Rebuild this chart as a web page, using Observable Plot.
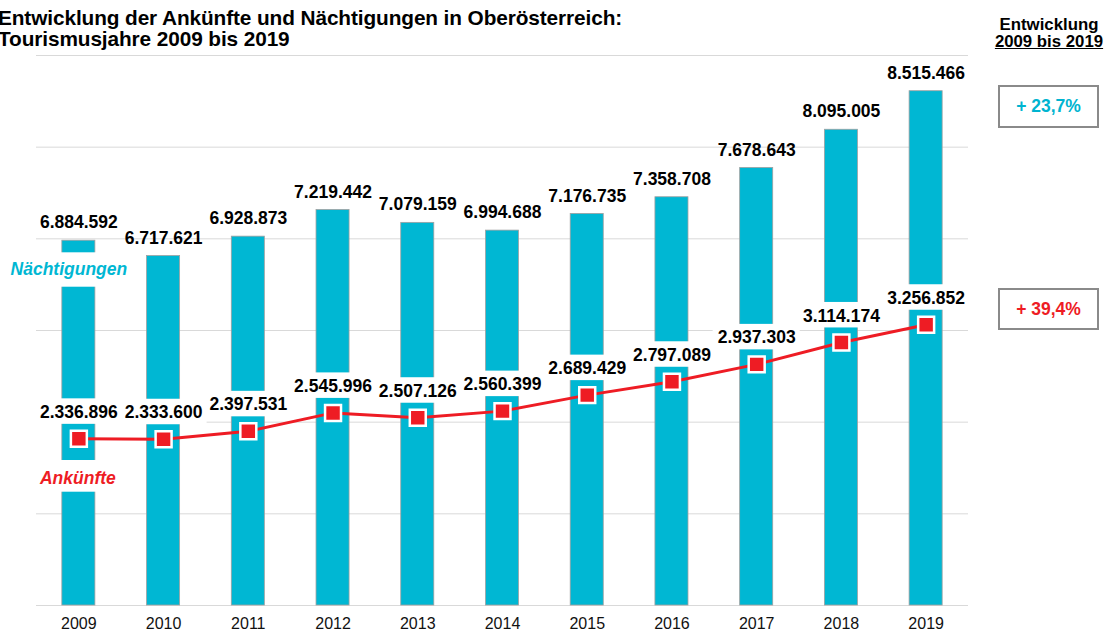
<!DOCTYPE html>
<html>
<head>
<meta charset="utf-8">
<script src="https://cdn.jsdelivr.net/npm/d3@7"></script>
<script src="https://cdn.jsdelivr.net/npm/@observablehq/plot@0.6"></script>
<style>
  html, body { margin: 0; padding: 0; background: #fff; }
  body { font-family: "Liberation Sans", Arial, sans-serif; }
  #wrap { position: relative; width: 1105px; height: 631px; overflow: hidden; }
  #chart { position: absolute; left: 0; top: 0; }
  #title { position: absolute; left: -2px; top: 6.5px; font-size: 20.8px; line-height: 21.5px; font-weight: bold; color: #000; white-space: nowrap; letter-spacing: -0.1px; }
  #rhead { position: absolute; left: 993px; top: 17px; width: 112px; text-align: center; font-size: 16.8px; line-height: 16.8px; font-weight: bold; color: #000; }
  #rhead u { text-decoration: underline; }
  .box { position: absolute; left: 998px; width: 101px; box-sizing: border-box; border: 2px solid #8a8a8a; display: flex; align-items: center; justify-content: center; font-size: 17.5px; font-weight: bold; white-space: pre; }
</style>
</head>
<body>
<div id="wrap">
  <div id="chart"></div>
  <div id="title">Entwicklung der Ankünfte und Nächtigungen in Oberösterreich:<br>Tourismusjahre 2009 bis 2019</div>
  <div id="rhead">Entwicklung<br><u>2009 bis 2019</u></div>
  <div class="box" id="boxN" style="top:85px;height:43px;color:#00b4d0;"></div>
  <div class="box" id="boxA" style="top:288px;height:42px;color:#ee1c24;"></div>
</div>
<script>
// ---- data ----
const years = [2009, 2010, 2011, 2012, 2013, 2014, 2015, 2016, 2017, 2018, 2019];
const naechtigungen = [6884592, 6717621, 6928873, 7219442, 7079159, 6994688, 7176735, 7358708, 7678643, 8095005, 8515466];
const ankuenfte = [2336896, 2333600, 2397531, 2545996, 2507126, 2560399, 2689429, 2797089, 2937303, 3114174, 3256852];
const seriesNames = ["Nächtigungen", "Ankünfte"];
const changeLabels = ["+ 23,7%", "+ 39,4%"];
// axis domains (primary for bars, secondary for the line)
const yDomain = [2905000, 8905000];
const y2Domain = [993000, 5428000];
const gridValues = [2905000, 3905000, 4905000, 5905000, 6905000, 7905000, 8905000];
// series label anchors (primary-axis units)
const seriesLabelY = [6575900, 4295900];
const seriesLabelBox = [[6377300, 6752600], [4141000, 4486800]];

// ---- chart ----
const W = 1105, H = 631, mT = 55, mB = 26, mL = 36, mR = 137;
const plotH = H - mT - mB;
const upx = (yDomain[1] - yDomain[0]) / plotH; // data units per pixel
const conv = v => yDomain[0] + (v - y2Domain[0]) * (yDomain[1] - yDomain[0]) / (y2Domain[1] - y2Domain[0]);
const fmt = d3.formatLocale({decimal: ",", thousands: ".", grouping: [3], currency: ["", ""]}).format(",d");

const CYAN = "#00b7d3", RED = "#ee1c24";
const bars = years.map((y, i) => ({year: y, v: naechtigungen[i]}));
const line = years.map((y, i) => ({year: y, v: ankuenfte[i], yc: conv(ankuenfte[i])}));
const legend = seriesNames.map((s, i) => ({name: s, year: years[0], y: seriesLabelY[i], y1: seriesLabelBox[i][0], y2: seriesLabelBox[i][1], color: i === 0 ? CYAN : RED}));

const chart = Plot.plot({
  width: W, height: H,
  marginTop: mT, marginBottom: mB, marginLeft: mL, marginRight: mR,
  style: {fontFamily: "'Liberation Sans', Arial, sans-serif", background: "transparent"},
  x: {type: "band", domain: years, paddingInner: 0.61, paddingOuter: 0.305, round: false, label: null},
  y: {domain: yDomain, axis: null},
  marks: [
    Plot.ruleY(gridValues, {stroke: "#d9d9d9", strokeWidth: 1}),
    Plot.barY(bars, {x: "year", y1: () => yDomain[0], y2: "v", fill: CYAN, stroke: "#a0a0a0", strokeWidth: 0.8}),
    Plot.text(bars, {x: "year", y: "v", text: d => fmt(d.v), dy: -18, fontSize: 17.5, fontWeight: "bold", fill: "#000"}),
    // white label backgrounds for the Ankünfte values
    Plot.barY(line, {x: "year", y1: d => d.yc + 14.5 * upx, y2: d => d.yc + 40 * upx, fill: "#fff", insetLeft: -27, insetRight: -27}),
    // white label backgrounds for series names
    Plot.barY(legend, {x: "year", y1: "y1", y2: "y2", fill: "#fff", insetLeft: -2, insetRight: -2}),
    Plot.line(line, {x: "year", y: "yc", stroke: RED, strokeWidth: 3}),
    Plot.dot(line, {x: "year", y: "yc", symbol: "square", r: 9, fill: RED, stroke: "#fff", strokeWidth: 2.5}),
    Plot.text(line, {x: "year", y: "yc", text: d => fmt(d.v), dy: -26.5, fontSize: 17.5, fontWeight: "bold", fill: "#000"}),
    Plot.text([legend[0]], {x: "year", y: "y", text: "name", fill: CYAN, fontSize: 17.5, fontWeight: "bold", fontStyle: "italic", dx: -10}),
    Plot.text([legend[1]], {x: "year", y: "y", text: "name", fill: RED, fontSize: 17.5, fontWeight: "bold", fontStyle: "italic", dx: -1}),
    Plot.axisX({tickSize: 0, tickPadding: 12, fontSize: 16, fill: "#111", tickFormat: d => String(d)})
  ]
});
document.getElementById("chart").appendChild(chart);
document.getElementById("boxN").textContent = changeLabels[0];
document.getElementById("boxA").textContent = changeLabels[1];
</script>
</body>
</html>
